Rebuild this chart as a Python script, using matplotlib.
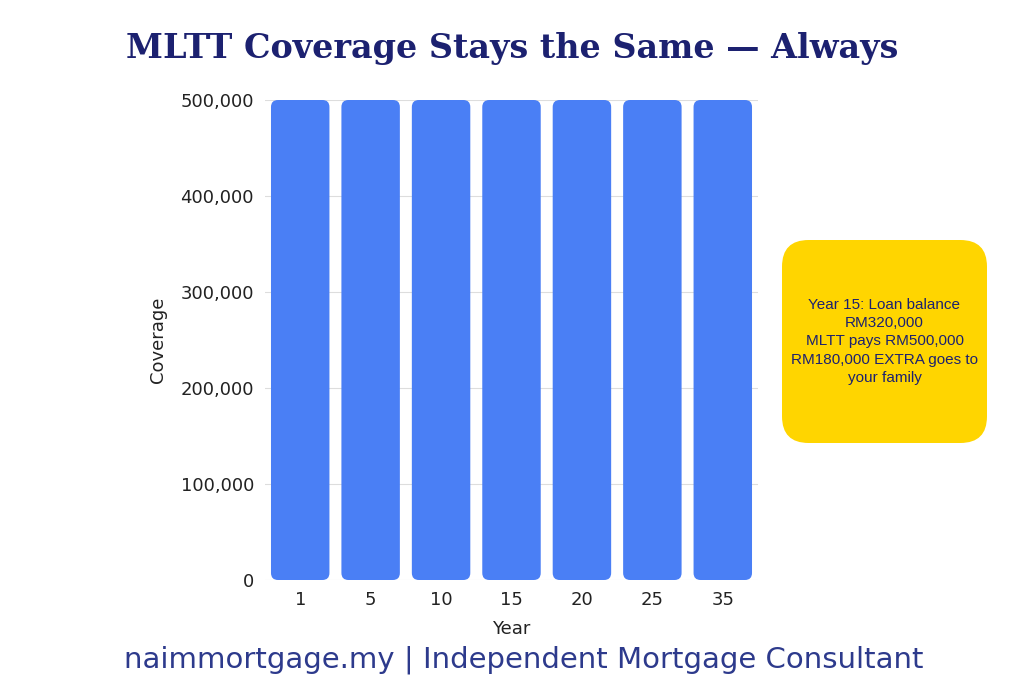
import matplotlib.pyplot as plt
from matplotlib.patches import FancyBboxPatch

years = ["1", "5", "10", "15", "20", "25", "35"]
coverage = [500000, 500000, 500000, 500000, 500000, 500000, 500000]
yticks = [0, 100000, 200000, 300000, 400000, 500000]
note = "Year 15: Loan balance\nRM320,000\nMLTT pays RM500,000\nRM180,000 EXTRA goes to\nyour family"

fig = plt.figure(figsize=(10.24, 6.83), dpi=100)
ax = fig.add_axes([265 / 1024, 103 / 683, 493 / 1024, 480 / 683])

# rounded bars: aspect between data units per pixel in y and x
aspect = (500000 / 480) / (7 / 493)
for i, v in enumerate(coverage):
    ax.add_patch(FancyBboxPatch((i - 0.415, 0), 0.83, v,
                                boxstyle="round,pad=0,rounding_size=0.1",
                                mutation_aspect=aspect, fc="#4a7ff5", ec="none",
                                clip_on=False, zorder=3))

ax.set_xlim(-0.5, 6.5)
ax.set_ylim(0, 500000)
ax.set_xticks(range(len(years)), years)
ax.set_yticks(yticks, [f"{t:,}" for t in yticks])
ax.tick_params(length=0, labelsize=13, colors="#222222", pad=8)
ax.grid(axis="y", color="#dddddd", lw=0.8, zorder=0)
for s in ax.spines.values():
    s.set_visible(False)
ax.set_xlabel("Year", fontsize=13, color="#222222", labelpad=8)
ax.set_ylabel("Coverage", fontsize=13, color="#222222", labelpad=10)

fig.text(0.5, 0.915, "MLTT Coverage Stays the Same — Always", ha="center",
         fontsize=24, fontweight="heavy", family="DejaVu Serif", color="#1c2170")
fig.text(0.511, 0.022, "naimmortgage.my | Independent Mortgage Consultant", ha="center",
         fontsize=21, family="DejaVu Sans", color="#2d3a8c")

# yellow note box
bx = fig.add_axes([782 / 1024, (683 - 443) / 683, 205 / 1024, 203 / 683])
bx.axis("off")
bx.add_patch(FancyBboxPatch((0, 0), 1, 1, boxstyle="round,pad=0,rounding_size=0.13",
                            mutation_aspect=205 / 203, fc="#ffd500", ec="none",
                            transform=bx.transAxes, clip_on=False))
bx.text(0.5, 0.5, note, ha="center", va="center", fontsize=11, family="Liberation Sans",
        color="#1c2170", linespacing=1.4, transform=bx.transAxes)

fig.savefig("out.png", dpi=100, facecolor="white")
